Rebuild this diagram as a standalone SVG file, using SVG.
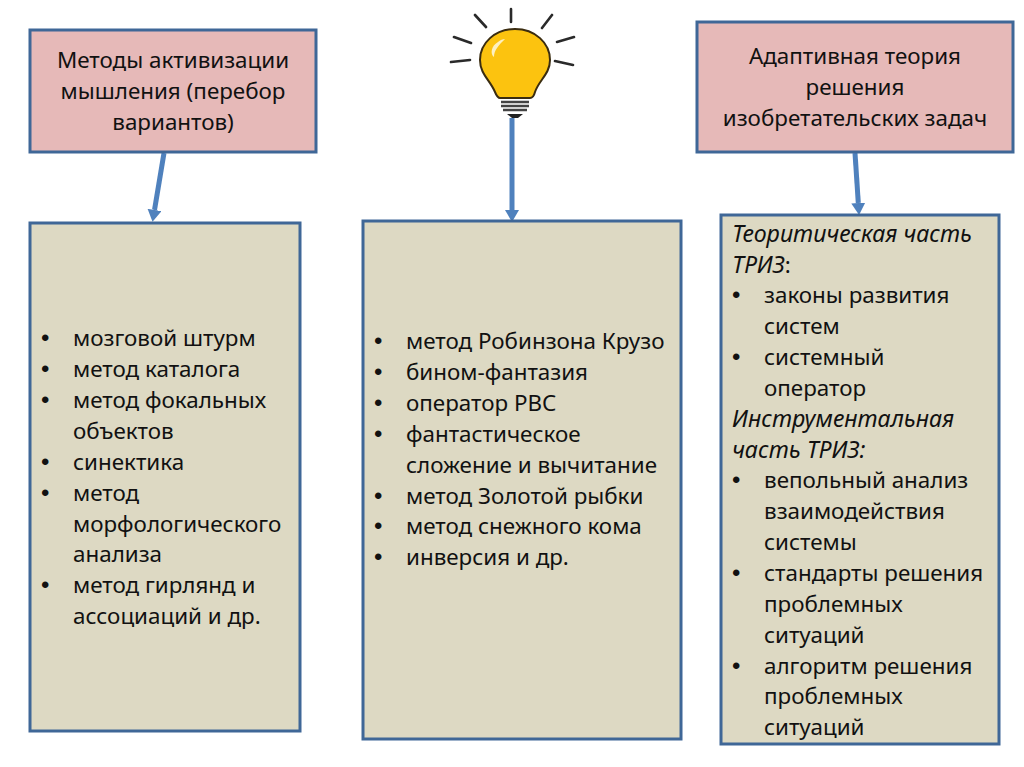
<svg xmlns="http://www.w3.org/2000/svg" width="1024" height="767" viewBox="0 0 1024 767">
<defs>
<style>
.box{stroke:#3f6797;stroke-width:3}
.pink{fill:#e6b9b8}.tan{fill:#ddd9c3}
text{font-family:"Noto Sans","Open Sans",sans-serif;font-size:22.4px;fill:#111}
.c{text-anchor:middle}.i{font-style:italic;font-size:23.2px}
.b{font-family:"Liberation Sans",sans-serif;font-size:24px}
.conn{stroke:#4f81bd;stroke-width:5;fill:none}
.ray{stroke:#2a2a2a;stroke-width:2.6;stroke-linecap:round;fill:none}
</style>
<marker id="ah" markerUnits="userSpaceOnUse" markerWidth="12" markerHeight="14" refX="0" refY="7" orient="auto"><path d="M0 0L12 7L0 14Z" fill="#4f81bd"/></marker>
</defs>
<rect width="1024" height="767" fill="#fff"/>
<g id="connectors">
<path class="conn" d="M164 153L154.500 210" marker-end="url(#ah)"/>
<path class="conn" d="M512 118V210" marker-end="url(#ah)"/>
<path class="conn" d="M855 153L858.300 203" marker-end="url(#ah)"/>
</g>
<g id="bulb">
<path class="ray" d="M511 9V22M475 15L486 27M552 15L542 28M454 37L471 43M574 37L557 42M451 62L470 60M573 65L555 61"/>
<path d="M515 29C495 29 480 43 480 60C480 74 490 80 495 92C497 97 498 98 500 98H530C533 98 534 96 535 92C539 80 550 74 550 60C550 43 535 29 515 29Z" fill="#fcc30f" stroke="#3a2c10" stroke-width="2"/>
<path d="M498 42C491 46 490 54 494 57C494 50 499 45 505 39C503 39 500 40 498 42Z" fill="#fdf0c0"/>
<path d="M501 102H529M501 106H529M503 110H527" stroke="#444" stroke-width="2.5" fill="none"/>
<path d="M507 114H523L518 118H512Z" fill="#222"/>
</g>
<g id="n1">
<rect class="box pink" x="30" y="30" width="286" height="122"/>
<text class="c" x="173" y="68">Методы активизации</text>
<text class="c" x="173" y="99">мышления (перебор</text>
<text class="c" x="173" y="130">вариантов)</text>
</g>
<g id="n2">
<rect class="box pink" x="697" y="22" width="316" height="130"/>
<text class="c" x="855" y="64">Адаптивная теория</text>
<text class="c" x="855" y="95">решения</text>
<text class="c" x="855" y="126">изобретательских задач</text>
</g>
<g id="n3">
<rect class="box tan" x="30" y="223" width="270" height="508"/>
<text class="b" x="41" y="346">•</text><text x="73" y="346">мозговой штурм</text>
<text class="b" x="41" y="377">•</text><text x="73" y="377">метод каталога</text>
<text class="b" x="41" y="408">•</text><text x="73" y="408">метод фокальных</text>
<text x="73" y="439">объектов</text>
<text class="b" x="41" y="470">•</text><text x="73" y="470">синектика</text>
<text class="b" x="41" y="501">•</text><text x="73" y="501">метод</text>
<text x="73" y="532">морфологического</text>
<text x="73" y="562">анализа</text>
<text class="b" x="41" y="593">•</text><text x="73" y="593">метод гирлянд и</text>
<text x="73" y="624">ассоциаций и др.</text>
</g>
<g id="n4">
<rect class="box tan" x="363" y="221" width="318" height="518"/>
<text class="b" x="374" y="349">•</text><text x="406" y="349">метод Робинзона Крузо</text>
<text class="b" x="374" y="380">•</text><text x="406" y="380">бином-фантазия</text>
<text class="b" x="374" y="411">•</text><text x="406" y="411">оператор РВС</text>
<text class="b" x="374" y="442">•</text><text x="406" y="442">фантастическое</text>
<text x="406" y="473">сложение и вычитание</text>
<text class="b" x="374" y="504">•</text><text x="406" y="504">метод Золотой рыбки</text>
<text class="b" x="374" y="534">•</text><text x="406" y="534">метод снежного кома</text>
<text class="b" x="374" y="565">•</text><text x="406" y="565">инверсия и др.</text>
</g>
<g id="n5">
<rect class="box tan" x="721" y="215" width="278" height="529"/>
<text class="i" x="732" y="242">Теоритическая часть</text>
<text x="732" y="273"><tspan class="i">ТРИЗ</tspan>:</text>
<text class="b" x="732" y="303">•</text><text x="764" y="303">законы развития</text>
<text x="764" y="334">систем</text>
<text class="b" x="732" y="365">•</text><text x="764" y="365">системный</text>
<text x="764" y="396">оператор</text>
<text class="i" x="732" y="427">Инструментальная</text>
<text class="i" x="732" y="458">часть ТРИЗ:</text>
<text class="b" x="732" y="488">•</text><text x="764" y="488">вепольный анализ</text>
<text x="764" y="519">взаимодействия</text>
<text x="764" y="550">системы</text>
<text class="b" x="732" y="581">•</text><text x="764" y="581">стандарты решения</text>
<text x="764" y="612">проблемных</text>
<text x="764" y="643">ситуаций</text>
<text class="b" x="732" y="674">•</text><text x="764" y="674">алгоритм решения</text>
<text x="764" y="704">проблемных</text>
<text x="764" y="735">ситуаций</text>
</g>
</svg>
